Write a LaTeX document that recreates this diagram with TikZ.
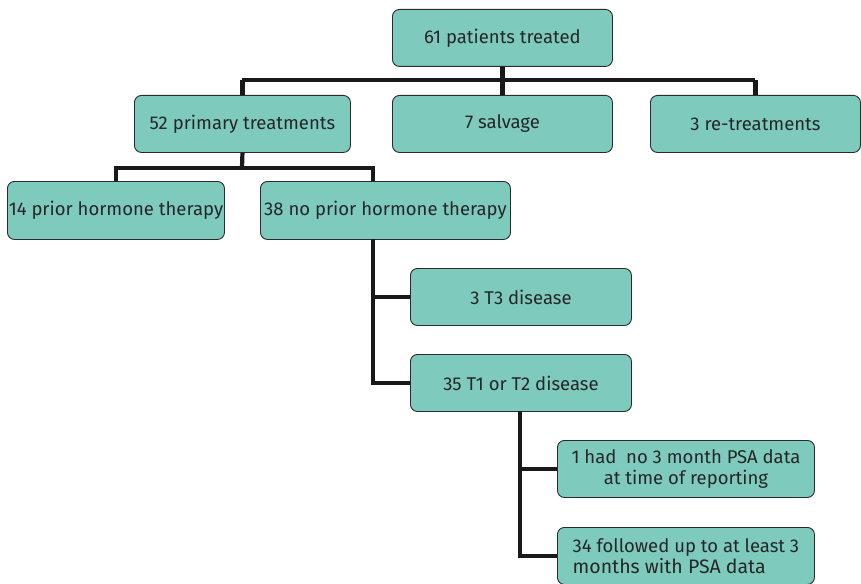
\documentclass[tikz,border=0pt]{standalone}
\usepackage{fontspec}
\setmainfont{Fira Sans}
\definecolor{boxfill}{HTML}{7ECBBE}
\definecolor{boxline}{HTML}{2B2B2B}
\definecolor{txt}{HTML}{262626}
\begin{document}
\begin{tikzpicture}[x=1pt,y=-1pt,
  box/.style={draw=boxline,line width=0.9pt,fill=boxfill,rounded corners=7pt,
    text=txt,font=\fontsize{18.5}{21}\selectfont,inner sep=0pt,anchor=north west},
  link/.style={line width=4.2pt,draw=black!90}]
\useasboundingbox (0,0) rectangle (861,583);
\node[box,minimum width=220pt,minimum height=57pt] (top) at (392,9) {61 patients treated};
\node[box,minimum width=216pt,minimum height=57pt] (prim) at (134,95) {52 primary treatments};
\node[box,minimum width=220pt,minimum height=57pt] (salv) at (392,95) {7 salvage};
\node[box,minimum width=210pt,minimum height=57pt] (retr) at (650,95) {3 re-treatments};
\node[box,minimum width=217pt,minimum height=58pt] (prior) at (7,181) {14 prior hormone therapy};
\node[box,minimum width=250pt,minimum height=58pt] (noprior) at (260,181) {38 no prior hormone therapy};
\node[box,minimum width=221pt,minimum height=57pt] (tthree) at (410,268) {3 T3 disease};
\node[box,minimum width=221pt,minimum height=57pt] (tone) at (410,354) {35 T1 or T2 disease};
\node[box,minimum width=257pt,minimum height=57pt,align=center] (nodata) at (557,440) {1 had\ \ no 3 month PSA data\\ at time of reporting};
\node[box,minimum width=257pt,minimum height=57pt,align=left] (follow) at (557,527) {34 followed up to at least 3\\ {\fontsize{19.5}{21}\selectfont months with PSA data}};
\coordinate (jtop) at (502,80);
\draw[link] (top.south) -- (salv.north);
\draw[link] (prim.north |- jtop) -- (retr.north |- jtop);
\draw[link] (prim.north |- jtop) -- (prim.north);
\draw[link] (retr.north |- jtop) -- (retr.north);
\coordinate (jprim) at (242,168);
\draw[link] (prim.south) -- (jprim);
\draw[link] (prior.north) |- (jprim) -| (373,181);
\coordinate (bno) at (373,239);
\draw[link] (bno) |- (tone.west);
\draw[link] (tthree.west) -- (tthree.west -| bno);
\coordinate (bt) at (520,411);
\draw[link] (bt) |- (follow.west);
\draw[link] (nodata.west) -- (nodata.west -| bt);
\end{tikzpicture}
\end{document}
